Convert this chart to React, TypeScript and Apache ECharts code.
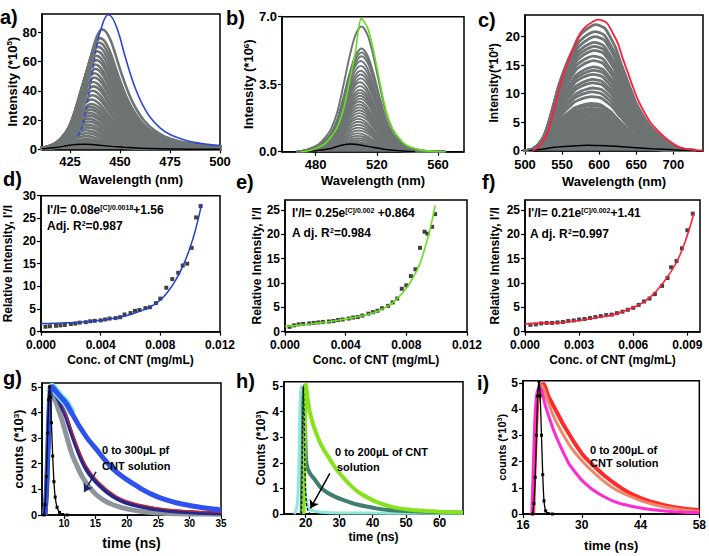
import React, { useEffect, useRef } from "react";
import * as echarts from "echarts";

const FONT = '"Liberation Sans", Arial, Helvetica, sans-serif';

// ---------------- panel a ----------------
const aXTicks = [425, 450, 475, 500];
const aYTicks = [0, 20, 40, 60, 80];
const aShape = [[-33,0.004],[-29,0.01],[-24,0.03],[-20,0.07],[-17,0.13],[-14,0.22],[-12,0.32],[-10,0.45],[-8,0.6],[-6,0.74],[-4,0.87],[-2,0.96],[0,1],[2,0.98],[4,0.92],[6,0.83],[8,0.72],[11,0.57],[14,0.44],[17,0.34],[21,0.24],[26,0.16],[31,0.11],[36,0.08],[41,0.058],[46,0.045],[51,0.035],[56,0.028],[61,0.022],[70,0.015]];
const aGrayPeak = [82,76,73,70,67,64,61,58,55,52,49,46,43,40,37,34,31,29,27,25,23,21,19,17,15,13,11,9,7,6,5,4];
const aGrayPos = [441,440,439.5,439,438.5,438,438,437.5,437.5,437,437,436.5,436.5,436,436,435.5,435.5,435,435,434.5,434.5,434,434,433.5,433.5,433,433,432.5,432.5,432,432,431.5];
const aBlueSolid = [[439,76],[440,80],[442,88.3],[444,92],[446,90.2],[448,84.6],[450,76.4],[452,66.2],[455,52.4],[458,40.5],[461,31.3],[465,22.1],[470,14.7],[475,10.1],[480,7.4],[485,5.3],[490,4.1],[495,3.2],[500,2.6]];
const aBlueDash = [[429,9],[431,15],[433,27],[435,42],[437,60],[439,76]];
const aBlack = [[411,0.3],[418,1.2],[424,2.6],[428,3.3],[432,3.5],[436,3.2],[440,2.7],[446,2.0],[452,1.4],[460,0.8],[470,0.4],[485,0.1],[500,0]];

// ---------------- panel b ----------------
const bXTicks = [480, 520, 560];
const bYTicks = [0, 3.5, 7];
const bShape = [[-40,0.005],[-36,0.015],[-32,0.035],[-28,0.06],[-24,0.11],[-20,0.18],[-16,0.31],[-12,0.52],[-8,0.75],[-4,0.93],[0,1],[4,0.93],[8,0.75],[12,0.52],[16,0.31],[20,0.18],[24,0.11],[28,0.06],[33,0.03],[40,0.01],[48,0.002],[55,0]];
const bGrayPeak = [6.5,5.35,5.15,4.95,4.7,4.45,4.2,4.0,3.8,3.6,3.4,3.2,3.05,2.9,2.75,2.6,2.45,2.3,2.15,2.0,1.85,1.7,1.55,1.4,1.25,1.1,0.95,0.82,0.7,0.6,0.5];
const bGrayPos = [510,510,510,510,509.5,509.5,509.5,509.5,509.5,509,509,509,509,509,509,508.5,508.5,508.5,508.5,508.5,508.5,508,508,508,508,508,507.5,507.5,507.5,507.5,507];
const bGreen = [[470,0],[474,0.03],[478,0.1],[482,0.24],[486,0.41],[490,0.76],[494,1.24],[498,2.14],[502,3.59],[506,5.18],[510,6.9],[514,6.42],[518,5.18],[522,3.59],[526,2.14],[530,1.24],[534,0.76],[538,0.41],[543,0.21],[550,0.07],[558,0.014],[565,0]];
const bBlack = [[470,0],[480,0.05],[490,0.17],[497,0.33],[503,0.4],[509,0.35],[516,0.25],[525,0.13],[535,0.05],[545,0]];

// ---------------- panel c ----------------
const cXTicks = [500, 550, 600, 650, 700];
const cYTicks = [0, 5, 10, 15, 20];
const cShape = [[-88,0],[-82,0.017],[-75,0.06],[-68,0.13],[-63,0.22],[-59,0.31],[-54,0.42],[-50,0.51],[-43,0.63],[-37,0.72],[-30,0.81],[-23,0.9],[-15,0.95],[-8,0.98],[0,1],[7,0.99],[13,0.97],[20,0.9],[27,0.82],[34,0.7],[41,0.59],[48,0.48],[54,0.39],[63,0.29],[72,0.21],[81,0.15],[91,0.1],[100,0.06],[109,0.03],[120,0.012],[136,0.003]];
const cGrayPeak = [22.1,20.9,20.0,19.0,18.3,17.6,16.6,15.8,14.7,14.1,13.4,12.5,11.9,11.0,10.3,9.5,8.3,7.9,7.4,7.0,6.6,6.2,5.8,5.4,5.0,4.6,4.2,3.9,3.6,3.3,3.0,2.7,2.4,2.1];
const cGrayPos = [595,594,594,593,593,593,592,592,592,592,591,591,591,591,590,590,589,589,589,588,588,588,587,587,587,586,586,586,585,585,585,585,584,584];
const cRed = [[510,0],[516,0.4],[523,1.4],[530,3.0],[535,5.1],[539,7.1],[544,9.7],[548,11.7],[555,14.5],[561,16.6],[568,18.6],[575,20.7],[583,21.9],[590,22.5],[598,23],[605,22.8],[611,22.3],[618,20.7],[625,18.9],[632,16.1],[639,13.6],[646,11.0],[652,9.0],[661,6.7],[670,4.8],[679,3.5],[689,2.3],[698,1.4],[707,0.7],[718,0.28],[734,0.07],[740,0.03]];
const cBlack = [[505,0],[520,0.2],[540,0.6],[560,0.8],[585,0.95],[610,0.85],[640,0.6],[670,0.35],[700,0.15],[720,0.05],[740,0]];

// ---------------- panel d ----------------
const dXTicks = [0, 0.004, 0.008, 0.012];
const dYTicks = [0, 5, 10, 15, 20, 25, 30];
const dConc = [0.0003,0.0006,0.001,0.0013,0.0016,0.002,0.0023,0.0026,0.003,0.0033,0.0036,0.004,0.0043,0.0046,0.005,0.0053,0.0056,0.006,0.0063,0.0066,0.007,0.0073,0.0077,0.008,0.0084,0.0088,0.0092,0.0095,0.0098,0.0101,0.0104,0.0107];
const dRatio = [1.1,1.2,1.3,1.4,1.5,1.7,1.8,2.0,2.1,2.3,2.4,2.5,2.7,2.9,3.0,3.2,3.8,4.1,4.6,4.8,5.2,5.4,6.3,7.3,9.7,11.6,13.0,14.6,15.0,18.5,25.2,27.7];
const dFit = [[0,1.8],[0.001,1.85],[0.002,2.0],[0.003,2.2],[0.004,2.5],[0.005,3.0],[0.006,3.8],[0.007,5.0],[0.0075,5.8],[0.008,7.0],[0.0085,8.8],[0.009,11.2],[0.0095,14.4],[0.01,18.6],[0.0104,23.0],[0.01077,28.2]];

// ---------------- panel e ----------------
const eXTicks = [0, 0.004, 0.008, 0.012];
const eYTicks = [0, 5, 10, 15, 20, 25];
const eConc = [0.0003,0.0006,0.0009,0.0012,0.0016,0.0019,0.0022,0.0025,0.0029,0.0032,0.0035,0.0038,0.0042,0.0045,0.0048,0.0051,0.0055,0.0058,0.0061,0.0064,0.0068,0.0071,0.0074,0.0077,0.008,0.0083,0.0086,0.0089,0.0092,0.0094,0.0097,0.0099];
const eRatio = [1.0,1.3,1.5,1.6,1.7,1.8,1.9,2.0,2.1,2.2,2.4,2.5,2.7,2.9,3.0,3.3,3.7,4.0,4.3,4.8,5.3,6.0,6.8,8.8,9.5,11.4,12.8,17.2,20.5,20.1,21.5,24.1];
const eFit = [[0,1.1],[0.001,1.35],[0.002,1.7],[0.003,2.1],[0.004,2.6],[0.005,3.2],[0.006,4.1],[0.0068,5.3],[0.0074,6.8],[0.008,8.9],[0.0085,11.4],[0.0089,14.0],[0.0093,18.0],[0.0096,21.5],[0.0099,25.9]];

// ---------------- panel f ----------------
const fXTicks = [0, 0.003, 0.006, 0.009];
const fYTicks = [0, 5, 10, 15, 20, 25];
const fConc = [0.0003,0.0006,0.0009,0.0012,0.0015,0.0018,0.0021,0.0024,0.0027,0.003,0.0033,0.0036,0.0039,0.0042,0.0045,0.0048,0.0051,0.0054,0.0057,0.006,0.0063,0.0066,0.0069,0.0072,0.0076,0.0079,0.0081,0.0084,0.0087,0.009,0.0093];
const fRatio = [1.4,1.5,1.7,1.8,1.8,1.9,2.0,2.2,2.3,2.5,2.6,2.8,3.0,3.2,3.4,3.5,3.8,4.1,4.5,4.9,5.5,6.2,6.8,7.7,9.4,11.0,13.2,14.5,17.1,20.8,24.2];
const fFit = [[0,1.6],[0.001,1.75],[0.002,1.9],[0.003,2.3],[0.004,2.9],[0.005,3.6],[0.006,5.0],[0.0065,5.9],[0.007,7.3],[0.0075,9.3],[0.008,11.8],[0.0085,15.0],[0.009,19.8],[0.00937,24.5]];

// ---------------- panel g ----------------
const gXTicks = [10, 15, 20, 25, 30, 35];
const gYTicks = [0, 1, 2, 3, 4, 5];
const gIrf = [[6.8,0],[7.0,0.4],[7.2,1.5],[7.4,3.2],[7.55,4.5],[7.7,5.0],[7.85,4.6],[8.0,3.6],[8.2,2.3],[8.4,1.3],[8.6,0.7],[8.9,0.3],[9.3,0.1],[9.8,0.02],[10.5,0]];
const gGray = [[6.9,0],[7.2,0.8],[7.5,2.8],[7.75,4.4],[7.95,4.9],[8.3,4.7],[9,4.2],[9.7,3.7],[10.5,3.0],[11.3,2.35],[12.2,1.85],[13,1.45],[14,1.1],[15.1,0.8],[16.5,0.55],[17.8,0.4],[19.5,0.27],[21,0.19],[23,0.12],[25,0.08],[28,0.05],[31,0.04],[35,0.03]];
const gNavy = [[7.0,0],[7.3,1.2],[7.6,3.4],[7.85,4.7],[8.05,5.0],[8.5,4.8],[9.3,4.4],[10.3,3.85],[11.1,3.25],[11.9,2.7],[12.7,2.2],[13.5,1.8],[14.5,1.45],[15.6,1.16],[17,0.86],[18.3,0.65],[19.6,0.5],[21,0.4],[23,0.29],[25,0.21],[27,0.16],[30,0.11],[33,0.08],[35,0.07]];
const gRed = [[8.1,5.0],[9.3,4.5],[10.3,3.95],[11.9,2.85],[13.5,1.95],[15.6,1.28],[18.3,0.75],[21,0.48],[24,0.32],[27,0.22],[30,0.16],[35,0.1]];
const gBlue = [[7.0,0],[7.3,1.5],[7.55,3.6],[7.8,4.8],[8.1,5.0],[8.8,4.8],[9.5,4.6],[10.3,4.38],[11.3,3.95],[12.4,3.48],[13.7,3.0],[15.1,2.58],[16.4,2.18],[17.8,1.8],[19.4,1.48],[21,1.22],[22.3,1.02],[23.7,0.84],[25,0.7],[26.4,0.58],[28,0.47],[29.6,0.39],[31.2,0.32],[32.8,0.26],[35,0.2]];
const gCyanPeak = [[7.8,4.8],[8.1,5.0],[8.8,4.8],[9.5,4.6],[10.3,4.38],[11.3,3.95]];
const gArrow = [[15.1, 1.68], [13.2, 0.9]];

// ---------------- panel h ----------------
const hXTicks = [20, 30, 40, 50, 60];
const hYTicks = [0, 1, 2, 3, 4, 5];
const hCyan = [[16.5,0],[17.2,0.2],[17.6,0.6],[17.9,1.6],[18.1,3.0],[18.3,4.3],[18.55,5.0],[18.8,4.7],[19.1,3.7],[19.4,2.4],[19.7,1.3],[20.1,0.6],[20.7,0.28],[21.5,0.15],[23,0.1],[26,0.06],[32,0.04],[45,0.03],[67,0.02]];
const hIrf = [[18.7,0],[18.9,1.2],[19.1,3.5],[19.3,5.0],[19.5,4.0],[19.7,2.2],[19.95,0.9],[20.3,0.3],[20.8,0.08],[21.5,0]];
const hTeal = [[18.8,0],[19.05,2.0],[19.3,4.3],[19.5,5.0],[19.7,4.0],[19.9,2.8],[20.1,2.1],[20.5,1.8],[21.0,1.65],[21.6,1.52],[22.5,1.38],[23.5,1.2],[24.6,1.02],[26.5,0.83],[28.7,0.68],[30.7,0.57],[32.7,0.48],[35,0.38],[37.8,0.3],[41,0.22],[44.8,0.16],[50,0.12],[55,0.09],[61,0.07],[67,0.05]];
const hGreen = [[19.3,0],[19.55,1.5],[19.8,3.8],[20.05,5.05],[20.5,4.6],[21.1,4.06],[22.2,3.5],[23.6,3.0],[25,2.6],[26.7,2.24],[28.2,1.93],[29.7,1.66],[31.7,1.35],[33.7,1.08],[36,0.83],[38.8,0.62],[41.5,0.45],[44.8,0.31],[48,0.22],[51.9,0.16],[56,0.12],[60,0.09],[67,0.06]];
const hArrow = [[27.2, 1.59], [21.4, 0.22]];

// ---------------- panel i ----------------
const iXTicks = [16, 30, 44, 58];
const iYTicks = [0, 1, 2, 3, 4, 5];
const iIrf = [[18.3,0],[18.6,0.4],[18.9,1.4],[19.2,3.0],[19.5,4.5],[19.8,5.05],[20.1,4.5],[20.4,3.0],[20.7,1.5],[21.0,0.5],[21.4,0.12],[22,0.02],[23,0]];
const iMagenta = [[18.1,0],[18.4,1.5],[18.8,3.5],[19.3,4.6],[19.9,4.85],[20.4,4.75],[21.2,4.2],[22.2,3.7],[23.4,3.15],[24.6,2.69],[25.8,2.28],[26.9,1.93],[28.4,1.6],[30,1.29],[32,1.0],[33.9,0.79],[35.8,0.62],[37.8,0.47],[40,0.36],[42.4,0.28],[45.5,0.19],[48.7,0.13],[52,0.09],[55,0.06],[58,0.05]];
const iOrange = [[18.3,0],[18.7,2.0],[19.2,4.0],[19.8,4.8],[20.6,4.9],[21.5,4.5],[23,3.83],[24.5,3.33],[26.1,2.88],[27.6,2.5],[29.2,2.18],[31.1,1.85],[33.1,1.55],[35,1.28],[37,1.04],[39.3,0.83],[41.7,0.66],[44.4,0.49],[47.1,0.36],[50,0.26],[53,0.18],[55.5,0.13],[58,0.1]];
const iRed = [[18.4,0],[18.8,2.0],[19.4,4.2],[20.2,4.9],[21,4.95],[22,4.5],[23.8,3.96],[25.3,3.5],[26.9,3.07],[28.4,2.68],[30,2.31],[31.9,1.98],[33.9,1.68],[35.8,1.41],[37.8,1.17],[40,0.93],[42.4,0.72],[45,0.55],[47.9,0.41],[50.5,0.31],[53.3,0.23],[55.5,0.18],[58,0.15]];

// ---------------- layout ----------------
const GRIDS = [
  { left: 42, top: 14, width: 178, height: 135.3 },
  { left: 282, top: 16.7, width: 182, height: 135 },
  { left: 525, top: 15, width: 178, height: 135.7 },
  { left: 41, top: 195.7, width: 179, height: 136 },
  { left: 285, top: 200, width: 182, height: 131.7 },
  { left: 525, top: 200, width: 175, height: 131.7 },
  { left: 42, top: 383, width: 179, height: 132 },
  { left: 284, top: 381.7, width: 179, height: 132.3 },
  { left: 523, top: 380.7, width: 180, height: 133.3 },
];

const GRAY = "#6e7474";
const sup = (size: number) => ({ fontSize: size, fontWeight: "bold", fontFamily: FONT, color: "#000", verticalAlign: "top" });

function xAx(i: number, s: any) {
  return {
    type: "value", gridIndex: i, min: s.min, max: s.max,
    axisLine: { show: true, onZero: false, lineStyle: { color: "#000", width: 1.5 } },
    axisTick: { show: true, inside: false, length: 4, customValues: s.ticks, lineStyle: { color: "#000", width: 1.2 } },
    axisLabel: { customValues: s.ticks, fontSize: s.fs, fontWeight: "bold", fontFamily: FONT, color: "#000", margin: s.margin, formatter: s.fmt },
    splitLine: { show: false },
    name: s.name, nameLocation: "middle", nameGap: s.gap,
    nameTextStyle: { fontSize: s.nfs, fontWeight: "bold", fontFamily: FONT, color: "#000" },
  };
}
function yAx(i: number, s: any) {
  return {
    type: "value", gridIndex: i, min: s.min, max: s.max,
    axisLine: { show: true, onZero: false, lineStyle: { color: "#000", width: 1.5 } },
    axisTick: { show: true, inside: false, length: 4, customValues: s.ticks, lineStyle: { color: "#000", width: 1.2 } },
    axisLabel: { customValues: s.ticks, fontSize: s.fs, fontWeight: "bold", fontFamily: FONT, color: "#000", margin: s.margin, formatter: s.fmt },
    splitLine: { show: false },
    name: s.name, nameLocation: "middle", nameGap: s.gap, nameRotate: 90,
    nameTextStyle: { fontSize: s.nfs, fontWeight: "bold", fontFamily: FONT, color: "#000", rich: { n: { fontSize: s.nfs, fontWeight: "bold", fontFamily: FONT, color: "#000" }, s: sup(Math.round(s.nfs * 0.62)) } },
  };
}

function line(i: number, data: number[][], color: string, width: number, extra: any = {}) {
  return {
    type: "line", xAxisIndex: i, yAxisIndex: i, data, symbol: "none", showSymbol: false,
    smooth: 0.3, silent: true, clip: true,
    lineStyle: { color, width, ...(extra.lineStyle || {}) },
    ...Object.fromEntries(Object.entries(extra).filter(([k]) => k !== "lineStyle")),
  };
}
function scatter(i: number, xs: number[], ys: number[]) {
  return {
    type: "scatter", xAxisIndex: i, yAxisIndex: i, data: xs.map((x, k) => [x, ys[k]]),
    symbol: "rect", symbolSize: 4, itemStyle: { color: "#111" }, silent: true,
  };
}
function grayFamily(i: number, shape: number[][], peaks: number[], pos: number[], w: number) {
  return peaks.map((h, k) => line(i, shape.map(([dx, v]) => [pos[k] + dx, v * h]), GRAY, w,
    k === peaks.length - 1 ? { areaStyle: { color: GRAY, opacity: 1 } } : {}));
}
function arrow(i: number, pts: number[][], color: string) {
  return {
    type: "line", xAxisIndex: i, yAxisIndex: i, data: [], silent: true,
    markLine: {
      silent: true, symbol: ["none", "arrow"], symbolSize: 8, animation: false,
      lineStyle: { color, width: 1.5, type: "solid" }, label: { show: false },
      data: [[{ coord: pts[0] }, { coord: pts[1] }]],
    },
  };
}

function buildOption() {
  const f3 = (v: number) => v.toFixed(3);
  const f1 = (v: number) => v.toFixed(1);
  const xs = [
    { min: 411, max: 500, ticks: aXTicks, fs: 13, margin: 6, name: "Wavelength (nm)", gap: 24, nfs: 13 },
    { min: 458, max: 577, ticks: bXTicks, fs: 13, margin: 6, name: "Wavelength (nm)", gap: 22, nfs: 13 },
    { min: 500, max: 740, ticks: cXTicks, fs: 13, margin: 7, name: "Wavelength (nm)", gap: 24, nfs: 13 },
    { min: 0, max: 0.012, ticks: dXTicks, fs: 12, margin: 7, fmt: f3, name: "Conc. of CNT (mg/mL)", gap: 22, nfs: 12 },
    { min: 0, max: 0.012, ticks: eXTicks, fs: 12, margin: 7, fmt: f3, name: "Conc. of CNT (mg/mL)", gap: 22, nfs: 12 },
    { min: 0, max: 0.0097, ticks: fXTicks, fs: 12, margin: 7, fmt: f3, name: "Conc. of CNT (mg/mL)", gap: 22, nfs: 12 },
    { min: 6.5, max: 35, ticks: gXTicks, fs: 10, margin: 3, name: "time (ns)", gap: 21, nfs: 14 },
    { min: 13.5, max: 67, ticks: hXTicks, fs: 12, margin: 3, name: "time (ns)", gap: 17, nfs: 12 },
    { min: 16, max: 58, ticks: iXTicks, fs: 12, margin: 5, name: "time (ns)", gap: 25, nfs: 13 },
  ];
  const ys = [
    { min: 0, max: 92.5, ticks: aYTicks, fs: 13, margin: 5, name: "{n|Intensity (*10}{s|5}{n|)}", gap: 23, nfs: 13 },
    { min: 0, max: 7, ticks: bYTicks, fs: 13, margin: 5, fmt: f1, name: "{n|Intensity (*10}{s|6}{n|)}", gap: 22, nfs: 13 },
    { min: 0, max: 23.8, ticks: cYTicks, fs: 13, margin: 5, name: "{n|Intensity(*10}{s|4}{n|)}", gap: 25, nfs: 12 },
    { min: 0, max: 30, ticks: dYTicks, fs: 12, margin: 5, name: "{n|Relative Intensity, I'/I}", gap: 27, nfs: 12 },
    { min: 0, max: 27, ticks: eYTicks, fs: 12, margin: 5, name: "{n|Relative Intensity, I'/I}", gap: 22, nfs: 12 },
    { min: 0, max: 27, ticks: fYTicks, fs: 12, margin: 5, name: "{n|Relative Intensity, I'/I}", gap: 24, nfs: 12 },
    { min: 0, max: 5.15, ticks: gYTicks, fs: 11, margin: 5, name: "{n|counts (*10}{s|3}{n|)}", gap: 17, nfs: 13 },
    { min: 0, max: 5.17, ticks: hYTicks, fs: 12, margin: 5, name: "{n|Counts (*10}{s|3}{n|)}", gap: 17, nfs: 12 },
    { min: 0, max: 5.08, ticks: iYTicks, fs: 12, margin: 5, name: "{n|counts (*10}{s|3}{n|)}", gap: 13, nfs: 11 },
  ];

  const series: any[] = [
    // a
    ...grayFamily(0, aShape, aGrayPeak, aGrayPos, 2.6),
    line(0, aBlack, "#000", 1.5),
    line(0, aBlueDash, "#2f45d8", 1.5, { lineStyle: { type: [4, 3] } }),
    line(0, aBlueSolid, "#2f45d8", 1.6),
    // b
    ...grayFamily(1, bShape, bGrayPeak, bGrayPos, 1.9),
    line(1, bBlack, "#000", 1.5),
    line(1, bGreen, "#66e01a", 1.6),
    // c
    ...grayFamily(2, cShape, cGrayPeak, cGrayPos, 2.8),
    line(2, cBlack, "#000", 1.5),
    line(2, cRed, "#ff1f3a", 1.8),
    // d
    line(3, dFit, "#2340c8", 1.5, { smooth: true }),
    scatter(3, dConc, dRatio),
    // e
    line(4, eFit, "#66e01a", 1.6, { smooth: true }),
    scatter(4, eConc, eRatio),
    // f
    line(5, fFit, "#ff1f3a", 1.6, { smooth: true }),
    scatter(5, fConc, fRatio),
    // g
    line(6, gGray, "#8e949c", 5),
    line(6, gNavy, "#25278f", 4),
    line(6, gRed, "#d02828", 1.2),
    line(6, gCyanPeak, "#79e6e0", 8),
    line(6, gBlue, "#2f52ee", 5),
    line(6, gIrf, "#000", 1.3, { smooth: 0.15, symbol: "rect", showSymbol: true, symbolSize: 3, itemStyle: { color: "#000" } }),
    arrow(6, gArrow, "#1c1e70"),
    // h
    line(7, hCyan, "#8fe8d8", 3, { smooth: 0.15 }),
    line(7, hTeal, "#3f7f6f", 4, { smooth: 0.15 }),
    line(7, hGreen, "#86e21a", 4, { smooth: 0.15 }),
    line(7, hIrf, "#111", 1.3, { smooth: 0.15, lineStyle: { type: [3, 2] } }),
    arrow(7, hArrow, "#000"),
    // i
    line(8, iRed, "#ff2a2a", 4, { smooth: 0.15 }),
    line(8, iOrange, "#ee8868", 3, { smooth: 0.15 }),
    line(8, iMagenta, "#ff2bd0", 3, { smooth: 0.15 }),
    line(8, iIrf, "#000", 1.3, { smooth: 0.15, symbol: "rect", showSymbol: true, symbolSize: 3, itemStyle: { color: "#000" } }),
  ];

  const letter = (t: string, x: number, y: number) => ({
    type: "text", x, y, silent: true,
    style: { text: t, font: `bold 20px ${FONT}`, fill: "#000", verticalAlign: "middle", textVerticalAlign: "middle" },
  });
  const richN = { fontSize: 12, fontWeight: "bold", fontFamily: FONT, fill: "#000" };
  const richS = { fontSize: 7, fontWeight: "bold", fontFamily: FONT, fill: "#000", verticalAlign: "top" };
  const fitText = (t: string, x: number, y: number) => ({
    type: "text", x, y, silent: true, z: 50,
    style: { text: t, rich: { n: richN, s: richS }, verticalAlign: "middle", textVerticalAlign: "middle" },
  });
  const note = (t: string, x: number, y: number, size = 11) => ({
    type: "text", x, y, silent: true, z: 50,
    style: { text: t, font: `bold ${size}px ${FONT}`, fill: "#000", verticalAlign: "middle", textVerticalAlign: "middle" },
  });

  const graphic = [
    letter("a)", 0, 17), letter("b)", 226, 18), letter("c)", 478, 20),
    letter("d)", 3, 179), letter("e)", 236, 182), letter("f)", 482, 182),
    letter("g)", 3, 378), letter("h)", 236, 381), letter("i)", 477, 383),
    fitText("{n|I'/I= 0.08e}{s|[C]/0.0018}{n|+1.56}", 47, 210),
    fitText("{n|Adj. R}{s|2}{n|=0.987}", 47, 226),
    fitText("{n|I'/I= 0.25e}{s|[C]/0.002}{n| +0.864}", 292, 213),
    fitText("{n|A dj. R}{s|2}{n|=0.984}", 292, 233),
    fitText("{n|I'/I= 0.21e}{s|[C]/0.002}{n|+1.41}", 528, 213),
    fitText("{n|A dj. R}{s|2}{n|=0.997}", 530, 234),
    note("0 to 300µL pf", 102, 450), note("CNT solution", 102, 466),
    note("0 to 200µL of CNT", 335, 452), note("solution", 337, 467),
    note("0 to 200µL of", 590, 450), note("CNT solution", 590, 463),
  ];

  return {
    animation: false,
    backgroundColor: "#fff",
    grid: GRIDS.map((g) => ({ ...g, show: true, borderColor: "#000", borderWidth: 1.5, backgroundColor: "transparent", containLabel: false })),
    xAxis: xs.map((s, i) => xAx(i, s)),
    yAxis: ys.map((s, i) => yAx(i, s)),
    series,
    graphic,
  };
}

export default function App() {
  const ref = useRef<HTMLDivElement>(null);
  useEffect(() => {
    const chart = echarts.init(ref.current!, null, { renderer: "svg" });
    chart.setOption(buildOption() as any);
    return () => chart.dispose();
  }, []);
  return (
    <div
      ref={ref}
      style={{ position: "fixed", left: 0, top: 0, width: 709, height: 556, background: "#fff" }}
    />
  );
}
